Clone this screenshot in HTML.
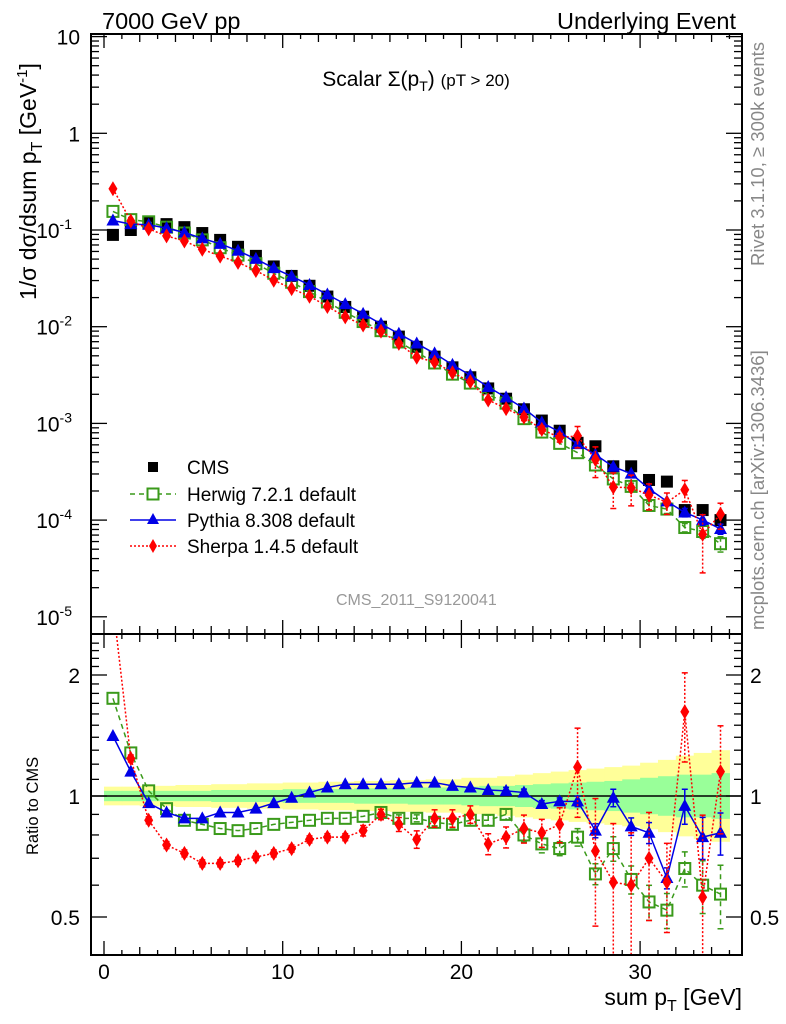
<!DOCTYPE html>
<html><head><meta charset="utf-8">
<style>
html,body{margin:0;padding:0;background:#fff;}
svg{display:block;font-family:"Liberation Sans",sans-serif;}
</style></head>
<body>
<svg id="chart" width="786" height="1024" viewBox="0 0 786 1024" xmlns="http://www.w3.org/2000/svg">
<defs>
<clipPath id="clipTop"><rect x="91" y="34" width="651" height="600"/></clipPath>
<clipPath id="clipBot"><rect x="91" y="634" width="651" height="321"/></clipPath>
</defs>
<g id="bands" clip-path="url(#clipBot)"></g>
<g id="topMarks" clip-path="url(#clipTop)"></g>
<g id="botMarks" clip-path="url(#clipBot)"></g>
<g id="axes"></g>

<text x="102" y="29" font-size="23.5">7000 GeV pp</text>
<text x="736" y="29" font-size="23.5" text-anchor="end">Underlying Event</text>
<text x="416" y="86" font-size="21" text-anchor="middle">Scalar Σ(p<tspan font-size="14" dy="5">T</tspan><tspan dy="-5">)</tspan> <tspan font-size="17">(pT &gt; 20)</tspan></text>
<text transform="translate(36,300) rotate(-90)" font-size="23">1/σ dσ/dsum p<tspan font-size="16" dy="6">T</tspan><tspan dy="-6"> [GeV</tspan><tspan font-size="15" dy="-9">-1</tspan><tspan dy="9">]</tspan></text>
<text transform="translate(38,855) rotate(-90)" font-size="16.5">Ratio to CMS</text>
<text x="742" y="1005" font-size="23" text-anchor="end">sum p<tspan font-size="16" dy="6">T</tspan><tspan dy="-6"> [GeV]</tspan></text>
<text transform="translate(764,266) rotate(-90)" font-size="18.5" fill="#888">Rivet 3.1.10, ≥ 300k events</text>
<text transform="translate(764,630) rotate(-90)" font-size="18.5" fill="#888">mcplots.cern.ch [arXiv:1306.3436]</text>
<text x="336" y="605" font-size="16" fill="#999">CMS_2011_S9120041</text>

<g>
 <rect x="148" y="462" width="10" height="10" fill="#000"/>
 <text x="187" y="474" font-size="19">CMS</text>
 <line x1="130" y1="494" x2="176" y2="494" stroke="#3a9a1a" stroke-width="1.5" stroke-dasharray="5,4"/>
 <rect x="147.5" y="488.5" width="11" height="11" fill="#fff" stroke="#3a9a1a" stroke-width="2"/>
 <text x="187" y="501" font-size="19">Herwig 7.2.1 default</text>
 <line x1="130" y1="520" x2="176" y2="520" stroke="#0000e6" stroke-width="1.5"/>
 <polygon points="153,513 159,524 147,524" fill="#0000e6"/>
 <text x="187" y="527" font-size="19">Pythia 8.308 default</text>
 <line x1="130" y1="546" x2="176" y2="546" stroke="#ff0000" stroke-width="1.5" stroke-dasharray="2,2"/>
 <polygon points="153,539 157,546 153,553 149,546" fill="#ff0000"/>
 <text x="187" y="553" font-size="19">Sherpa 1.4.5 default</text>
</g>
</svg>
<script>
const cmsValues = [0.089,0.10,0.118,0.115,0.107,0.093,0.079,0.067,0.054,0.042,0.0335,0.0265,0.0205,0.016,0.0127,0.010,0.0079,0.0062,0.0049,0.0038,0.0030,0.0023,0.0018,0.0014,0.00107,0.00084,0.00063,0.00058,0.00036,0.00036,0.00026,0.00025,0.000127,0.000127,0.0001];
const herwigRatio = [1.75,1.28,1.03,0.93,0.87,0.85,0.83,0.82,0.83,0.85,0.86,0.87,0.88,0.88,0.89,0.91,0.88,0.88,0.86,0.85,0.87,0.87,0.90,0.80,0.76,0.74,0.79,0.64,0.74,0.62,0.545,0.52,0.66,0.60,0.57];
const pythiaRatio = [1.41,1.15,0.96,0.91,0.88,0.88,0.91,0.91,0.93,0.96,0.99,1.02,1.05,1.07,1.07,1.07,1.07,1.08,1.08,1.06,1.05,1.035,1.03,1.02,0.955,0.97,0.97,0.82,0.99,0.84,0.81,0.625,0.945,0.79,0.81];
const sherpaRatio = [3.0,1.24,0.87,0.755,0.72,0.68,0.68,0.69,0.705,0.72,0.74,0.78,0.79,0.79,0.82,0.90,0.85,0.78,0.88,0.88,0.90,0.76,0.79,0.83,0.81,0.85,1.18,0.73,0.61,0.60,0.70,0.61,1.62,0.56,1.15];
const herwigErr = [0.01,0.01,0.01,0.01,0.01,0.01,0.01,0.01,0.01,0.01,0.01,0.01,0.01,0.015,0.015,0.015,0.02,0.02,0.02,0.02,0.03,0.03,0.03,0.04,0.05,0.04,0.05,0.06,0.07,0.08,0.1,0.1,0.1,0.15,0.18];
const pythiaErr = [0.01,0.01,0.01,0.01,0.01,0.01,0.01,0.01,0.01,0.01,0.01,0.01,0.01,0.01,0.01,0.01,0.01,0.01,0.01,0.01,0.015,0.015,0.02,0.02,0.02,0.02,0.03,0.04,0.05,0.05,0.06,0.06,0.1,0.12,0.12];
const sherpaErr = [0.02,0.02,0.02,0.02,0.02,0.02,0.02,0.02,0.02,0.02,0.02,0.02,0.02,0.02,0.03,0.03,0.04,0.05,0.05,0.05,0.05,0.06,0.06,0.08,0.08,0.1,0.25,0.35,0.4,0.35,0.3,0.25,0.25,0.6,0.3];
const bandTotal = [0.055,0.055,0.06,0.06,0.065,0.065,0.07,0.07,0.075,0.075,0.08,0.08,0.085,0.085,0.09,0.09,0.095,0.095,0.1,0.1,0.11,0.11,0.12,0.13,0.14,0.15,0.16,0.17,0.18,0.19,0.21,0.23,0.26,0.28,0.3];
const bandStat = [0.03,0.03,0.03,0.03,0.03,0.03,0.035,0.035,0.035,0.035,0.04,0.04,0.04,0.04,0.045,0.045,0.045,0.05,0.05,0.05,0.055,0.06,0.06,0.065,0.07,0.075,0.08,0.085,0.09,0.1,0.11,0.12,0.13,0.13,0.14];
const xTicks = [0,10,20,30];
const yTopTicks = [10,1,0.1,0.01,0.001,0.0001,0.00001];
const ratioTicks = [[2,"2"],[1,"1"],[0.5,"0.5"]];

const NS="http://www.w3.org/2000/svg";
const X0=91,X1=742,T0=34,T1=634,B0=634,B1=955;
const xs = v => 104 + 17.87*v;
const yt = v => 133.3 - 96.7*Math.log10(v);
const yr = v => 796 - 121*Math.log2(v);
function mk(tag, attrs, parent){const e=document.createElementNS(NS,tag);for(const k in attrs)e.setAttribute(k,attrs[k]);parent.appendChild(e);return e;}
const gBands=document.getElementById('bands'), gTop=document.getElementById('topMarks'), gBot=document.getElementById('botMarks'), gAx=document.getElementById('axes');

for(let i=0;i<cmsValues.length;i++){
  const xa=xs(i), xb=xs(i+1);
  let r=mk('rect',{x:xa,y:yr(1+bandTotal[i]),width:xb-xa+0.5,height:yr(1/(1+bandTotal[i]))-yr(1+bandTotal[i]),fill:'#ffff99'},gBands);
  
  
}
for(let i=0;i<cmsValues.length;i++){
  const xa=xs(i), xb=xs(i+1);
  let r=mk('rect',{x:xa,y:yr(1+bandStat[i]),width:xb-xa+0.5,height:yr(1/(1+bandStat[i]))-yr(1+bandStat[i]),fill:'#99ff99'},gBands);
  
  
}
let ref=mk('line',{x1:X0,x2:X1,y1:yr(1),y2:yr(1),stroke:'#000','stroke-width':1.5},gBands);



function marker(type,cx,cy,parent){
  let e;
  if(type==='herwig') e=mk('rect',{x:cx-5.5,y:cy-5.5,width:11,height:11,fill:'none',stroke:'#3a9a1a','stroke-width':2},parent);
  else if(type==='pythia') e=mk('polygon',{points:`${cx},${cy-7} ${cx+6.5},${cy+5} ${cx-6.5},${cy+5}`,fill:'#0000e6'},parent);
  else if(type==='sherpa') e=mk('polygon',{points:`${cx},${cy-7.5} ${cx+4.5},${cy} ${cx},${cy+7.5} ${cx-4.5},${cy}`,fill:'#ff0000'},parent);
  else e=mk('rect',{x:cx-6,y:cy-6,width:12,height:12,fill:'#000'},parent);
  return e;
}
const series=[
  {name:'herwig',ratio:herwigRatio,err:herwigErr,color:'#3a9a1a',dash:'5,4'},
  {name:'pythia',ratio:pythiaRatio,err:pythiaErr,color:'#0000e6',dash:''},
  {name:'sherpa',ratio:sherpaRatio,err:sherpaErr,color:'#ff0000',dash:'2,2'}
];
function drawSeries(s, yf, valf, g){
  let pts=s.ratio.map((r,i)=>`${xs(i+0.5)},${yf(valf(i))}`).join(' ');
  let pl=mk('polyline',{points:pts,fill:'none',stroke:s.color,'stroke-width':1.5},g);
  if(s.dash) pl.setAttribute('stroke-dasharray',s.dash);
  
  
  s.ratio.forEach((r,i)=>{
    const v=valf(i), cx=xs(i+0.5);
    const hi=yf(v*(1+s.err[i])), lo=yf(Math.max(v*(1-s.err[i]),1e-9));
    if(lo-hi>6){
      let eb=mk('line',{x1:cx,x2:cx,y1:hi,y2:lo,stroke:s.color,'stroke-width':1.5},g);
      if(s.dash) eb.setAttribute('stroke-dasharray',s.dash);
      
      
      mk('line',{x1:cx-3,x2:cx+3,y1:hi,y2:hi,stroke:s.color,'stroke-width':1.5},g);
      mk('line',{x1:cx-3,x2:cx+3,y1:lo,y2:lo,stroke:s.color,'stroke-width':1.5},g);
    }
    let m=marker(s.name,cx,yf(v),g);
    
    
  });
}
cmsValues.forEach((v,i)=>{
  let m=marker('cms',xs(i+0.5),yt(v),gTop);
  
  
});
series.forEach(s=>drawSeries(s,yt,i=>cmsValues[i]*s.ratio[i],gTop));
series.forEach(s=>drawSeries(s,yr,i=>s.ratio[i],gBot));

function frame(y0,y1,name){
  let r=mk('rect',{x:X0,y:y0,width:X1-X0,height:y1-y0,fill:'none',stroke:'#000','stroke-width':2},gAx);
  
  
}
frame(T0,T1,'top-panel-frame');
frame(B0,B1,'ratio-panel-frame');
for(let v=0;v<=35;v++){
  const x=xs(v); const len = v%10===0?14:(v%2===0?8:5);
  mk('line',{x1:x,x2:x,y1:T0,y2:T0+len,stroke:'#000','stroke-width':1.3},gAx);
  mk('line',{x1:x,x2:x,y1:T1,y2:T1-len,stroke:'#000','stroke-width':1.3},gAx);
  mk('line',{x1:x,x2:x,y1:B0,y2:B0+len,stroke:'#000','stroke-width':1.3},gAx);
  mk('line',{x1:x,x2:x,y1:B1,y2:B1-len,stroke:'#000','stroke-width':1.3},gAx);
}
xTicks.forEach(v=>{
  let t=mk('text',{x:xs(v),y:979,'font-size':21,'text-anchor':'middle'},gAx);
  t.textContent=v;
  
  
});
for(let d=-5;d<=1;d++){
  for(let k=1;k<10;k++){
    const v=k*Math.pow(10,d); const y=yt(v);
    if(y<T0-0.5||y>T1) continue;
    const len=k===1?16:8;
    mk('line',{x1:X0,x2:X0+len,y1:y,y2:y,stroke:'#000','stroke-width':1.3},gAx);
    mk('line',{x1:X1,x2:X1-len,y1:y,y2:y,stroke:'#000','stroke-width':1.3},gAx);
  }
}
yTopTicks.forEach(v=>{
  const y=yt(v)+8;
  let t=mk('text',{x:80,y:y,'font-size':21,'text-anchor':'end'},gAx);
  if(v>=1){t.textContent=String(v);}
  else{
    const e=Math.round(Math.log10(v));
    t.setAttribute('x',72);
    t.textContent='10';
    let sp=mk('tspan',{'font-size':14,dy:-9},t); sp.textContent=String(e);
  }
  
  
});
for(let v=0.4;v<=2.5;v+=0.1){
  const y=yr(v); if(y<B0||y>B1) continue;
  const major=[0.5,1,2].some(m=>Math.abs(m-v)<1e-6);
  const len=major?16:8;
  mk('line',{x1:X0,x2:X0+len,y1:y,y2:y,stroke:'#000','stroke-width':1.3},gAx);
  mk('line',{x1:X1,x2:X1-len,y1:y,y2:y,stroke:'#000','stroke-width':1.3},gAx);
}
ratioTicks.forEach(([v,l])=>{
  let t=mk('text',{x:80,y:yr(v)+8,'font-size':21,'text-anchor':'end'},gAx);
  t.textContent=l;
  
  
  let t2=mk('text',{x:750,y:yr(v)+8,'font-size':21},gAx);
  t2.textContent=l;
  
  
});
</script>
</body></html>
